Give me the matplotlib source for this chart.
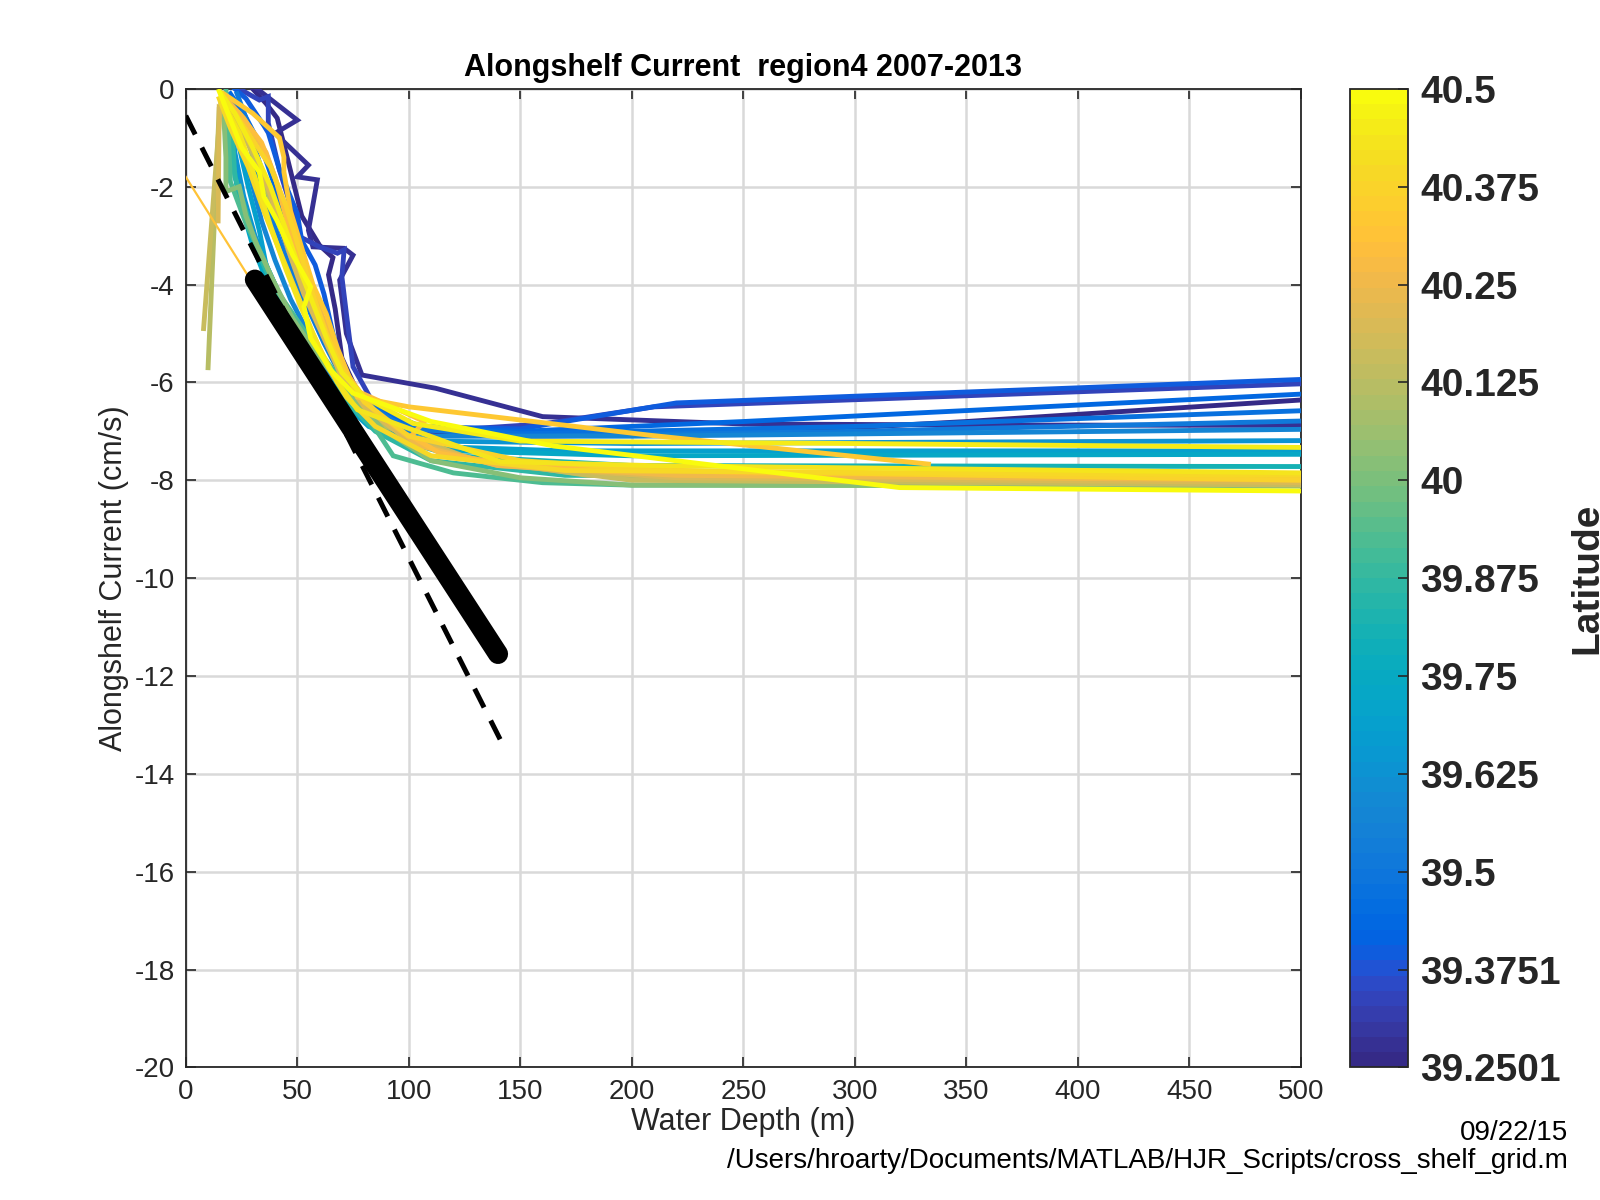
import matplotlib; matplotlib.use("Agg")
import matplotlib.pyplot as plt
import numpy as np
from matplotlib.colors import ListedColormap, Normalize
from matplotlib.cm import ScalarMappable

plt.rcParams["font.family"] = ["Liberation Sans", "DejaVu Sans"]
plt.rcParams["axes.unicode_minus"] = False
INK = "#262626"

# MATLAB parula, 64 steps
PARULA = [
    (0.2081, 0.1663, 0.5292), (0.2116, 0.1898, 0.5777), (0.2123, 0.2138, 0.6270), (0.2081, 0.2386, 0.6771),
    (0.1959, 0.2645, 0.7279), (0.1707, 0.2919, 0.7792), (0.1253, 0.3242, 0.8303), (0.0591, 0.3598, 0.8683),
    (0.0117, 0.3875, 0.8820), (0.0060, 0.4086, 0.8828), (0.0165, 0.4266, 0.8786), (0.0329, 0.4430, 0.8720),
    (0.0498, 0.4586, 0.8641), (0.0629, 0.4737, 0.8554), (0.0723, 0.4887, 0.8467), (0.0779, 0.5040, 0.8384),
    (0.0793, 0.5200, 0.8312), (0.0749, 0.5375, 0.8263), (0.0641, 0.5570, 0.8240), (0.0488, 0.5772, 0.8228),
    (0.0343, 0.5966, 0.8199), (0.0265, 0.6137, 0.8135), (0.0239, 0.6287, 0.8038), (0.0231, 0.6418, 0.7913),
    (0.0228, 0.6535, 0.7768), (0.0267, 0.6642, 0.7607), (0.0384, 0.6743, 0.7436), (0.0590, 0.6838, 0.7254),
    (0.0843, 0.6928, 0.7062), (0.1133, 0.7015, 0.6859), (0.1453, 0.7098, 0.6646), (0.1801, 0.7177, 0.6424),
    (0.2178, 0.7250, 0.6193), (0.2586, 0.7317, 0.5954), (0.3022, 0.7376, 0.5712), (0.3482, 0.7424, 0.5473),
    (0.3953, 0.7459, 0.5244), (0.4420, 0.7481, 0.5033), (0.4871, 0.7491, 0.4840), (0.5300, 0.7491, 0.4661),
    (0.5709, 0.7485, 0.4494), (0.6099, 0.7473, 0.4337), (0.6473, 0.7456, 0.4188), (0.6834, 0.7435, 0.4044),
    (0.7184, 0.7411, 0.3905), (0.7525, 0.7384, 0.3768), (0.7858, 0.7356, 0.3633), (0.8185, 0.7327, 0.3498),
    (0.8507, 0.7299, 0.3360), (0.8824, 0.7274, 0.3217), (0.9139, 0.7258, 0.3063), (0.9450, 0.7261, 0.2886),
    (0.9739, 0.7314, 0.2666), (0.9938, 0.7455, 0.2403), (0.9990, 0.7653, 0.2164), (0.9955, 0.7861, 0.1967),
    (0.9880, 0.8066, 0.1794), (0.9789, 0.8271, 0.1633), (0.9697, 0.8481, 0.1475), (0.9626, 0.8705, 0.1309),
    (0.9589, 0.8949, 0.1132), (0.9598, 0.9218, 0.0948), (0.9661, 0.9514, 0.0755), (0.9763, 0.9831, 0.0538)]
cmap = ListedColormap(PARULA)

# profiles: (water depth m, alongshelf current cm/s), one per latitude
dp1 = [(32,0.0),(50,-0.64),(40,-0.91),(55,-1.56),(50,-1.80),(59,-1.86),(55,-2.89),(57,-3.23),(71,-3.26),
       (75,-3.40),(69,-3.91),(72,-5.00),(79,-5.85),(112,-6.12),(160,-6.70),(250,-6.85),(350,-6.87),(500,-6.88)]
dp2 = [(30,0.0),(36,-0.3),(41,-0.6),(46,-1.5),(52,-2.6),(60,-3.2),(66,-3.45),(64,-3.8),(67,-4.5),(70,-5.5),
       (78,-6.3),(90,-6.8),(110,-7.0),(150,-7.1),(250,-7.05),(350,-6.8),(500,-6.36)]
b2 = [(24,0.0),(33,-0.23),(37,-0.16),(37,-0.7),(42,-1.66),(49,-2.68),(51,-3.02),(60,-3.23),(68,-3.36),(71,-3.29),
      (70,-3.84),(72,-4.59),(75,-5.68),(85,-6.5),(110,-7.0),(160,-6.85),(210,-6.5),(500,-6.03)]
b1 = [(22,0.0),(27,-0.2),(35,-0.75),(37,-0.9),(42,-1.65),(50,-2.55),(52,-3.1),(58,-3.6),(62,-4.2),(66,-5.0),
      (72,-5.9),(85,-6.6),(100,-6.9),(150,-6.95),(220,-6.42),(500,-5.94)]
b3 = [(20,-0.1),(26,-0.5),(34,-1.2),(40,-2.0),(46,-2.9),(52,-3.6),(58,-4.3),(64,-5.1),(70,-5.8),(80,-6.4),
      (100,-6.9),(150,-7.0),(250,-6.8),(500,-6.24)]
b4 = [(21,-0.2),(28,-0.8),(33,-1.5),(39,-2.4),(45,-3.2),(52,-4.0),(60,-4.8),(68,-5.6),(78,-6.3),(95,-6.85),
      (150,-7.05),(300,-6.9),(500,-6.58)]
b5 = [(23,-0.1),(27,-0.6),(30,-1.4),(36,-2.3),(42,-3.1),(48,-3.8),(55,-4.5),(62,-5.2),(70,-5.9),(82,-6.5),
      (100,-6.95),(150,-7.1),(300,-7.0),(500,-6.79)]
b6 = [(19,-0.3),(24,-1.0),(29,-1.8),(34,-2.7),(40,-3.5),(47,-4.3),(55,-5.0),(63,-5.7),(72,-6.3),(85,-6.8),
      (110,-7.1),(200,-7.1),(500,-6.96)]
c1 = [(20,-0.5),(22,-1.3),(26,-2.2),(31,-3.0),(37,-3.7),(44,-4.4),(52,-5.1),(60,-5.7),(70,-6.3),(85,-6.9),
      (110,-7.2),(200,-7.25),(500,-7.19)]
c2 = [(21,-0.4),(24,-1.2),(28,-2.0),(33,-2.9),(36,-3.6),(41,-4.1),(48,-4.9),(57,-5.6),(68,-6.3),(82,-6.9),
      (105,-7.3),(170,-7.4),(500,-7.4)]
t1 = [(19,-0.6),(21,-1.5),(25,-2.4),(30,-3.2),(36,-3.9),(43,-4.6),(51,-5.3),(60,-5.9),(72,-6.5),(90,-7.1),
      (120,-7.4),(200,-7.5),(500,-7.47)]
t2 = [(18,-0.3),(20,-1.2),(23,-2.0),(28,-2.8),(34,-3.5),(41,-4.3),(50,-5.0),(60,-5.7),(72,-6.4),(90,-7.1),
      (120,-7.5),(200,-7.7),(500,-7.72)]
t3 = [(19,-0.2),(21,-1.0),(22,-1.8),(27,-2.5),(32,-3.3),(39,-4.0),(47,-4.8),(57,-5.5),(68,-6.2),(85,-7.0),
      (110,-7.6),(170,-7.9),(500,-7.95)]
g1 = [(18,0.0),(19,-0.8),(20,-1.9),(27,-2.75),(34,-3.4),(42,-4.2),(54,-5.0),(67,-5.8),(80,-6.6),(93,-7.5),
      (120,-7.85),(160,-8.05),(200,-8.1),(500,-8.1)]
g2 = [(17,-0.5),(18,-1.4),(18,-2.1),(24,-2.0),(27,-2.6),(32,-3.2),(39,-3.9),(48,-4.7),(60,-5.5),(74,-6.3),
      (90,-7.0),(110,-7.6),(150,-7.95),(200,-8.1),(500,-8.12)]
k2 = [(10,-5.7),(15,-0.4),(19,-0.3),(26,-0.9),(33,-1.7),(41,-2.6),(49,-3.6),(57,-4.5),(65,-5.3),(75,-6.1),
      (90,-6.9),(120,-7.5),(180,-7.9),(500,-8.05)]
k1 = [(8,-4.9),(16,-0.1),(22,-0.6),(30,-1.3),(38,-2.1),(45,-3.0),(52,-3.9),(60,-4.8),(68,-5.6),(78,-6.3),
      (95,-7.0),(130,-7.6),(200,-8.0),(500,-8.1)]
k3 = [(14.5,-2.7),(15,-0.4),(24,-0.7),(32,-1.4),(39,-2.3),(46,-3.3),(53,-4.2),(61,-5.0),(69,-5.8),(80,-6.5),
      (100,-7.2),(140,-7.7),(220,-7.95),(500,-8.05)]
o3 = [(18,-0.2),(26,-0.6),(36,-1.3),(43,-2.2),(48,-3.0),(54,-3.8),(60,-4.5),(66,-5.2),(73,-5.9),(85,-6.6),
      (105,-7.3),(140,-7.7),(220,-7.9),(500,-8.0)]
o2 = [(16,-0.2),(24,-0.5),(34,-1.1),(40,-1.8),(46,-2.8),(53,-3.8),(60,-4.6),(66,-5.3),(72,-5.8),(78,-6.2),
      (107,-6.8),(101,-7.1),(114,-7.45),(141,-7.65),(250,-7.85),(500,-7.96)]
thin = [(0,-1.8),(29,-3.9)]
o1 = [(17,-0.1),(30,-0.5),(42,-1.0),(44,-1.4),(44,-1.7),(47,-2.5),(50,-2.95),(57,-4.0),(63,-4.6),(68,-5.3),
      (77,-6.3),(100,-6.5),(208,-7.08),(333,-7.67)]
o4 = [(19,-0.3),(28,-0.9),(38,-1.6),(45,-2.4),(51,-3.3),(57,-4.2),(63,-5.0),(70,-5.7),(80,-6.4),(100,-7.1),
      (150,-7.6),(215,-7.8),(500,-8.0)]
y4 = [(15,-0.2),(20,-0.8),(28,-1.6),(35,-2.5),(42,-3.3),(50,-4.2),(57,-5.0),(64,-5.7),(72,-6.3),(85,-6.9),
      (110,-7.5),(170,-7.8),(500,-7.9)]
y3 = [(17,-0.3),(24,-0.9),(31,-1.8),(38,-2.8),(45,-3.7),(52,-4.5),(60,-5.3),(68,-6.0),(77,-6.56),(141,-7.62),
      (208,-7.7),(500,-7.85)]
y2 = [(16,-0.1),(22,-0.5),(30,-1.2),(38,-2.0),(45,-2.9),(52,-3.8),(58,-4.5),(64,-5.2),(70,-5.8),(80,-6.3),
      (102,-6.84),(150,-7.2),(300,-7.25),(500,-7.33)]
y1 = [(15,-0.05),(25,-1.2),(33,-1.7),(35,-2.2),(41,-2.7),(48,-3.4),(56,-4.05),(53,-4.45),(56,-5.1),(65,-5.75),
      (75,-6.22),(110,-6.8),(165,-7.3),(320,-8.15),(500,-8.22)]

lats = [39.26, 39.27, 39.34, 39.40, 39.43, 39.47, 39.52, 39.57, 39.64, 39.68, 39.73, 39.80, 39.86, 39.93,
        40.02, 40.12, 40.15, 40.20, 40.25, 40.30, 40.32, 40.34, 40.37, 40.40, 40.43, 40.46, 40.50]
profiles = [dp2, dp1, b2, b1, b3, b4, b5, b6, c1, c2, t1, t2, t3, g1, g2, k2, k1, k3, o3, o2, thin, o1, o4,
            y4, y3, y2, y1]

# fitted lines
dash_depth = [0, 141]
dash_curr = [-0.55, -13.3]
fit_depth = [31, 140]
fit_curr = [-3.9, -11.55]

cb_ticklabels = ["39.2501", "39.3751", "39.5", "39.625", "39.75", "39.875", "40", "40.125", "40.25", "40.375", "40.5"]
lat_min, lat_max = 39.2501, 40.5

fig = plt.figure(figsize=(16, 12), dpi=100)
ax = fig.add_axes([0.1161, 0.1105, 0.697, 0.8155])
norm = Normalize(lat_min, lat_max)

for lat, prof in zip(lats, profiles):
    d = [p[0] for p in prof]; v = [p[1] for p in prof]
    ax.plot(d, v, color=cmap(norm(lat)), lw=1.6 if prof is thin else 3.5, solid_joinstyle="miter", zorder=3)

ax.plot(fit_depth, fit_curr, color="k", lw=14.5, solid_capstyle="round", zorder=4)
ax.plot(dash_depth, dash_curr, color="k", lw=3.6, dashes=(4.2, 2.93), zorder=5)

ax.set_xlim(0, 500); ax.set_ylim(-20, 0)
ax.set_xticks(np.arange(0, 501, 50)); ax.set_yticks(np.arange(-20, 1, 2))
ax.grid(True, color="#d9d9d9", lw=1.8, zorder=0)
ax.set_axisbelow(True)
ax.tick_params(direction="in", length=7, width=1.2, colors=INK, labelsize=20, top=True, right=True, pad=8)
for s in ax.spines.values():
    s.set_color(INK); s.set_linewidth(1.3)
ax.set_xlabel("Water Depth (m)", fontsize=22, color=INK, labelpad=2)
ax.set_ylabel("Alongshelf Current (cm/s)", fontsize=22, color=INK, labelpad=4)
ax.set_title("Alongshelf Current  region4 2007-2013", fontsize=22, fontweight="bold", color="k", pad=9)

cax = fig.add_axes([0.8438, 0.1105, 0.03625, 0.8155])
cb = fig.colorbar(ScalarMappable(norm=norm, cmap=cmap), cax=cax)
cb_ticks = [float(t) for t in cb_ticklabels]
cb.set_ticks(cb_ticks)
cb.set_ticklabels(cb_ticklabels)
cax.tick_params(direction="in", length=7, width=1.2, colors=INK, labelsize=28, pad=9)
for lab in cax.get_yticklabels():
    lab.set_fontweight("bold")
cb.outline.set_edgecolor(INK); cb.outline.set_linewidth(1.3)
# label sits partly past the right edge, as in the original export
fig.text(1569/1600, 0.518, "Latitude", rotation=90, fontsize=28, fontweight="bold", color=INK,
         ha="left", va="center")

fig.text(1568/1600, 1 - 1133/1200, "09/22/15", fontsize=20, color="k", ha="right", va="center")
fig.text(1568/1600, 1 - 1161/1200, "/Users/hroarty/Documents/MATLAB/HJR_Scripts/cross_shelf_grid.m",
         fontsize=20, color="k", ha="right", va="center")

fig.savefig("out.png", dpi=100, facecolor="white")
